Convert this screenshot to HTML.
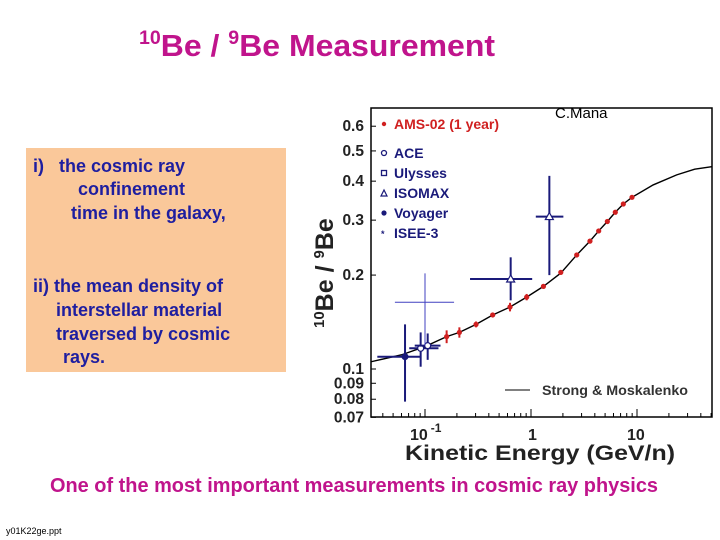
<!DOCTYPE html>
<html><head><meta charset="utf-8"><style>
body{margin:0;width:720px;height:540px;background:#fff;overflow:hidden;font-family:"Liberation Sans",sans-serif;}
</style></head><body>
<svg width="720" height="540" style="position:absolute;left:0;top:0">
<text x="139" y="56" font-size="31" font-weight="bold" fill="#c0148c" textLength="356" lengthAdjust="spacingAndGlyphs"><tspan font-size="19" dy="-12">10</tspan><tspan dy="12">Be / </tspan><tspan font-size="19" dy="-12">9</tspan><tspan dy="12">Be Measurement</tspan></text>
<rect x="26" y="148" width="260" height="224" fill="#fac89a"/>
<g font-size="18" font-weight="bold" fill="#1e1ea0">
<text x="33" y="172">i)&#160;&#160; the cosmic ray</text>
<text x="78" y="195">confinement</text>
<text x="71" y="219">time in the galaxy,</text>
<text x="33" y="292">ii) the mean density of</text>
<text x="56" y="316">interstellar material</text>
<text x="56" y="340">traversed by cosmic</text>
<text x="63" y="363">rays.</text>
</g>
<text x="50" y="492" font-size="20" font-weight="bold" fill="#c0148c" textLength="608" lengthAdjust="spacingAndGlyphs">One of the most important measurements in cosmic ray physics</text>
<text x="6" y="534" font-size="9" fill="#000">y01K22ge.ppt</text>
<g id="chart"></g>
</svg>
<script>
const amsX=[0.16,0.211,0.303,0.435,0.634,0.91,1.31,1.91,2.70,3.6,4.35,5.25,6.24,7.43,8.97];
const amsY=[0.127,0.131,0.139,0.149,0.158,0.170,0.184,0.204,0.232,0.257,0.277,0.297,0.318,0.338,0.355];
const amsErr=[0.006,0.005,0.003,0.002,0.005,0.004,0.003,0.003,0.003,0.003,0.003,0.003,0.003,0.003,0.003];
const curveX=[0.031,0.06,0.1,0.16,0.211,0.303,0.435,0.634,0.91,1.31,1.91,2.70,3.6,4.35,5.25,6.24,7.43,8.97,14.2,23.7,35,50.7];
const curveY=[0.1055,0.111,0.118,0.127,0.131,0.139,0.149,0.158,0.170,0.184,0.203,0.232,0.257,0.277,0.297,0.318,0.338,0.355,0.389,0.419,0.437,0.445];
const expName=["voyager","ace","ulysses","isee3","isomax1","isomax2"];
const expX=[0.0648,0.091,0.106,0.1,0.643,1.49];
const expY=[0.1095,0.1165,0.1188,0.1636,0.1943,0.308];
const expXlo=[0.0355,0.071,0.08,0.052,0.266,1.11];
const expXhi=[0.0897,0.134,0.14,0.188,1.026,2.02];
const expYlo=[0.0786,0.1017,0.107,0.119,0.166,0.2];
const expYhi=[0.139,0.131,0.13,0.2025,0.228,0.416];
const yTicks=[0.07,0.08,0.09,0.1,0.2,0.3,0.4,0.5,0.6];
const yTickLabels=["0.07","0.08","0.09","0.1","0.2","0.3","0.4","0.5","0.6"];

const L=371,R=712,T=108,B=417;
const fx=v=>425+106*(Math.log10(v)+1);
const fy=v=>369-312*(Math.log10(v)+1);
const NS="http://www.w3.org/2000/svg";
const g=document.getElementById('chart');
function mk(t,a,p){const e=document.createElementNS(NS,t);for(const k in a)e.setAttribute(k,a[k]);(p||g).appendChild(e);return e;}

const frame=mk('rect',{x:L,y:T,width:R-L,height:B-T,fill:'none',stroke:'#000','stroke-width':1.5});


yTicks.forEach((v,i)=>{
 const y=fy(v);
 const t=mk('line',{x1:L,x2:L+5,y1:y,y2:y,stroke:'#000'});
 
 
 const lb=mk('text',{x:L-7,y:y+5,'text-anchor':'end','font-size':15.5,'font-weight':'bold',fill:'#222'});
 lb.textContent=yTickLabels[i];
 
 
});
for(let d=-2;d<=1;d++){for(let m=1;m<10;m++){const v=m*Math.pow(10,d);if(v<0.031||v>50.7)continue;const x=fx(v);
 const t=mk('line',{x1:x,x2:x,y1:B,y2:B-(m==1?8:4),stroke:'#000'});
 
 }}
[["10",fx(0.1)-15,"-1"],["1",fx(1)-3,""],["10",fx(10)-10,""]].forEach(a=>{
 const lb=mk('text',{x:a[1],y:440,'font-size':16,'font-weight':'bold',fill:'#222'});
 lb.textContent=a[0];
 if(a[2]){const s=mk('tspan',{dy:-8,dx:3,'font-size':12},lb);s.textContent=a[2];}
 
 
});
const xt=mk('text',{x:405,y:460,'font-size':21,'font-weight':'bold',fill:'#222',textLength:270,lengthAdjust:'spacingAndGlyphs'});
xt.textContent='Kinetic Energy (GeV/n)';


const yt=mk('text',{x:0,y:0,'font-size':25,'font-weight':'bold',fill:'#222',transform:'translate(333,328) rotate(-90)'});
yt.innerHTML='<tspan font-size="15" dy="-9">10</tspan><tspan dy="9">Be / </tspan><tspan font-size="15" dy="-9">9</tspan><tspan dy="9">Be</tspan>';


const cv=mk('polyline',{points:curveX.map((v,i)=>fx(v)+','+fy(curveY[i])).join(' '),fill:'none',stroke:'#000','stroke-width':1.4});


expName.forEach((n,i)=>{
 const col=n=='isee3'?'#4040c0':'#1a1a7a', w=n=='isee3'?1:2;
 const eg=mk('g',{stroke:col,'stroke-width':w,fill:'none'});
 
 
 mk('line',{x1:fx(expXlo[i]),x2:fx(expXhi[i]),y1:fy(expY[i]),y2:fy(expY[i])},eg);
 mk('line',{x1:fx(expX[i]),x2:fx(expX[i]),y1:fy(expYlo[i]),y2:fy(expYhi[i])},eg);
 const cx=fx(expX[i]),cy=fy(expY[i]);
 if(n.startsWith('isomax'))mk('polygon',{points:`${cx},${cy-4} ${cx-4},${cy+3} ${cx+4},${cy+3}`,fill:'#fff','stroke-width':1.2},eg);
 else if(n=='ace'||n=='ulysses')mk('circle',{cx:cx,cy:cy,r:3,fill:'#fff','stroke-width':1.2},eg);
 else if(n=='voyager')mk('circle',{cx:cx,cy:cy,r:2.5,fill:col},eg);
});
amsX.forEach((v,i)=>{
 const ag=mk('g',{});
 
 
 mk('line',{x1:fx(v),x2:fx(v),y1:fy(amsY[i]-amsErr[i]),y2:fy(amsY[i]+amsErr[i]),stroke:'#d02020','stroke-width':2},ag);
 mk('circle',{cx:fx(v),cy:fy(amsY[i]),r:2.6,fill:'#d02020'},ag);
});
const lg=mk('g',{'font-size':14,'font-weight':'bold'});


mk('circle',{cx:384,cy:124,r:2.2,fill:'#d02020'},lg);
const t0=mk('text',{x:394,y:129,fill:'#d02020'},lg);t0.textContent='AMS-02 (1 year)';
const ents=['ACE','Ulysses','ISOMAX','Voyager','ISEE-3'];
ents.forEach((s,i)=>{const y=158+20*i;
 if(i==0)mk('circle',{cx:384,cy:y-5,r:2.5,fill:'none',stroke:'#1a1a7a','stroke-width':1.3},lg);
 if(i==1)mk('rect',{x:381.5,y:y-7.5,width:5,height:5,fill:'none',stroke:'#1a1a7a','stroke-width':1.3},lg);
 if(i==2)mk('polygon',{points:`384,${y-8} 381,${y-2} 387,${y-2}`,fill:'none',stroke:'#1a1a7a','stroke-width':1.2},lg);
 if(i==3)mk('circle',{cx:384,cy:y-5,r:2.6,fill:'#1a1a7a'},lg);
 if(i==4){const st=mk('text',{x:381,y:y-1,'font-size':9,fill:'#1a1a7a'},lg);st.textContent='*';}
 const t=mk('text',{x:394,y:y,fill:'#1a1a7a'},lg);t.textContent=s;
 
 
});
mk('line',{x1:505,x2:530,y1:390,y2:390,stroke:'#000'},lg);
const ts=mk('text',{x:542,y:395,fill:'#333','font-size':13.5,textLength:146,lengthAdjust:'spacingAndGlyphs'},lg);ts.textContent='Strong & Moskalenko';
const cm=mk('text',{x:555,y:118,'font-size':15,fill:'#000'});cm.textContent='C.Mana';


</script>
</body></html>
